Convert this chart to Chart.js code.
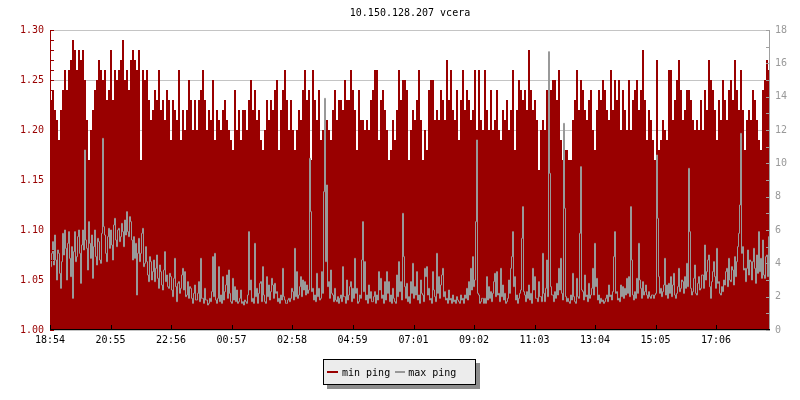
<!DOCTYPE html>
<html>
<head>
<meta charset="utf-8">
<script src="https://cdn.jsdelivr.net/npm/chart.js@4.4.1/dist/chart.umd.min.js"></script>
<style>
html,body{margin:0;padding:0;background:#fff;}
#wrap{position:relative;width:800px;height:400px;}
#legend{position:absolute;left:323px;top:359px;width:151px;height:24px;background:#ececec;border:1px solid #000;box-shadow:4px 4px 0 #8c8c8c;display:flex;align-items:center;font:10px 'DejaVu Sans Mono',monospace;color:#000;box-sizing:content-box;white-space:pre;}
.sw{display:inline-block;height:2px;}
</style>
</head>
<body>
<div id="wrap"><canvas id="c" width="800" height="400"></canvas><div id="legend"></div></div>
<script>
const TITLE = '10.150.128.207 vcera';
const SERIES_LABELS = ['min ping', 'max ping'];
const MIN_SAMPLE_MINUTES = 4;
const MAX_SAMPLE_MINUTES = 2;
const TOTAL_MINUTES = 1440;
const TICK_LABELS = ['18:54','20:55','22:56','00:57','02:58','04:59','07:01','09:02','11:03','13:04','15:05','17:06'];
const LEFT_TICKS = { min: 1.00, max: 1.30, step: 0.05 };
const RIGHT_TICKS = { min: 0, max: 18, step: 2 };

const MIN_PING = [
1.23,1.24,1.22,1.21,1.19,1.22,1.24,1.26,1.24,1.26,
1.27,1.29,1.28,1.26,1.28,1.27,1.28,1.25,1.21,1.17,
1.20,1.22,1.24,1.25,1.27,1.26,1.25,1.26,1.23,1.24,
1.28,1.23,1.26,1.25,1.26,1.27,1.29,1.25,1.26,1.24,
1.27,1.28,1.27,1.26,1.28,1.17,1.26,1.25,1.26,1.23,
1.21,1.22,1.24,1.23,1.26,1.22,1.23,1.21,1.24,1.23,
1.19,1.23,1.22,1.21,1.26,1.19,1.22,1.20,1.22,1.25,
1.23,1.20,
1.23,1.20,1.23,1.24,1.26,1.23,1.20,1.22,1.21,1.25,
1.19,1.22,1.21,1.20,1.22,1.23,1.21,1.20,1.19,1.18,
1.24,1.20,1.22,1.19,1.22,1.22,1.20,1.23,1.25,1.22,
1.24,1.21,1.22,1.19,1.18,1.20,1.23,1.21,1.23,1.22,
1.24,1.25,1.18,1.22,1.24,1.26,1.23,1.20,1.23,1.20,
1.18,1.20,1.22,1.21,1.24,1.26,1.23,1.24,1.17,1.26,
1.23,1.21,1.24,1.19,1.20,1.23,1.21,1.20,1.19,1.22,
1.24,1.21,1.23,
1.23,1.22,1.25,1.23,1.23,1.26,1.24,1.22,1.18,1.24,
1.21,1.21,1.20,1.21,1.20,1.23,1.24,1.26,1.26,1.19,
1.23,1.24,1.22,1.20,1.17,1.18,1.21,1.19,1.22,1.26,
1.23,1.25,1.25,1.24,1.17,1.20,1.22,1.21,1.23,1.26,
1.21,1.17,1.20,1.18,1.24,1.25,1.25,1.21,1.22,1.21,
1.24,1.23,1.21,1.27,1.23,1.26,1.22,1.21,1.24,1.19,
1.23,1.26,1.22,1.24,1.23,1.21,1.22,1.26,1.20,1.26,
1.21,1.20,
1.26,1.22,1.20,1.24,1.20,1.21,1.24,1.20,1.19,1.22,
1.21,1.23,1.20,1.22,1.26,1.18,1.22,1.25,1.24,1.23,
1.24,1.22,1.28,1.24,1.22,1.23,1.21,1.16,1.20,1.21,
1.20,1.24,1.26,1.24,1.25,1.25,1.23,1.26,1.19,1.17,
1.18,1.18,1.17,1.17,1.21,1.23,1.26,1.22,1.25,1.24,
1.22,1.21,1.23,1.24,1.20,1.18,1.22,1.24,1.23,1.25,
1.24,1.22,1.21,1.26,1.22,1.25,1.23,1.25,1.20,1.24,
1.22,1.20,
1.25,1.20,1.23,1.24,1.25,1.22,1.24,1.28,1.23,1.19,
1.22,1.21,1.19,1.17,1.27,1.18,1.19,1.21,1.20,1.19,
1.26,1.26,1.21,1.23,1.25,1.27,1.24,1.21,1.22,1.24,
1.24,1.23,1.21,1.20,1.21,1.20,1.23,1.20,1.24,1.22,
1.27,1.25,1.24,1.22,1.19,1.23,1.21,1.25,1.23,1.21,
1.24,1.25,1.23,1.27,1.24,1.22,1.26,1.22,1.18,1.21,
1.22,1.21,1.24,1.23,1.21,1.19,1.18,1.24,1.25,1.27,
1.26
];

const MAX_PING = [
3.8,4.6,5.3,3.9,5.7,4.2,3.0,4.8,4.6,3.4,2.5,4.1,5.8,4.5,6.0,4.9,3.0,5.2,5.9,4.3,
3.2,5.0,1.9,4.7,5.9,4.1,4.4,5.6,6.0,4.6,2.8,5.1,6.0,4.8,10.8,5.4,4.9,3.6,6.5,5.2,
4.3,5.7,3.1,5.0,6.0,4.4,3.9,5.5,5.3,4.2,4.0,5.8,11.5,6.2,5.7,4.6,4.1,5.6,6.1,4.9,
6.0,5.1,4.2,6.3,6.7,5.4,5.0,6.0,6.1,5.3,5.6,6.4,5.9,5.0,6.6,5.7,7.1,5.9,5.6,6.8,
6.5,5.4,4.2,5.6,4.3,5.2,2.1,4.6,5.5,4.1,4.6,5.8,6.1,3.8,4.0,5.0,4.1,3.3,2.9,4.4,
4.1,3.0,3.5,4.2,2.9,3.7,4.5,3.1,2.5,3.9,3.5,2.7,2.4,3.6,4.7,2.9,3.3,2.6,2.5,3.4,
3.2,2.4,2.0,3.1,4.3,2.6,1.7,2.8,2.9,2.2,2.5,3.3,3.7,2.4,3.5,2.0,2.1,2.9,1.9,2.6,
2.5,1.9,1.6,2.2,
2.7,1.8,1.8,2.2,2.9,1.7,4.3,1.9,1.9,1.6,2.5,1.8,1.8,1.5,1.6,1.9,1.7,2.3,4.4,2.0,
4.6,1.8,1.6,1.9,3.8,1.7,2.1,1.6,3.2,1.8,2.3,2.7,3.3,1.9,3.6,2.2,1.7,1.6,3.1,1.8,
2.6,1.7,2.4,1.6,1.7,1.9,2.4,1.6,1.7,1.5,1.8,1.7,1.6,2.1,5.9,2.4,3.0,1.7,1.9,1.6,
5.2,2.0,2.5,1.6,2.2,2.8,2.9,1.7,3.8,2.1,1.7,1.6,3.2,2.0,2.7,1.8,2.3,3.1,2.7,1.9,
2.8,2.2,2.3,1.7,1.9,1.6,2.1,1.8,3.7,2.0,1.8,1.6,1.6,1.8,1.9,1.7,1.9,2.5,2.3,1.8,
4.9,2.0,3.5,1.9,2.1,2.6,3.2,2.0,3.0,2.4,2.9,2.1,2.7,2.2,2.4,10.3,7.1,2.3,2.5,1.8,
2.1,1.7,3.4,2.0,2.5,1.8,1.9,3.5,2.2,8.3,13.9,4.1,8.7,2.6,2.9,1.9,3.6,2.2,2.1,1.7,
2.5,1.8,1.7,2.0,1.6,1.9,
2.1,1.7,3.8,2.0,2.0,1.6,3.0,1.8,2.1,2.6,2.9,1.7,2.5,1.9,4.3,2.2,2.5,1.6,1.7,2.1,
1.9,4.2,6.5,2.3,4.1,1.8,2.1,1.6,2.7,1.9,2.3,1.7,1.7,2.0,2.3,1.6,2.1,1.8,3.5,2.4,
3.1,1.9,2.1,1.6,2.9,1.8,3.5,2.2,2.9,1.7,2.1,1.6,2.5,1.9,1.7,1.6,3.3,2.0,4.1,2.3,
2.9,1.8,7.0,4.4,2.6,1.9,2.8,1.7,2.0,1.6,2.9,2.2,4.0,1.9,2.6,2.1,3.5,1.8,2.1,1.6,
3.0,2.2,2.1,1.7,3.7,3.2,3.8,2.1,2.5,1.8,1.9,1.6,3.5,2.4,2.0,1.7,4.6,2.2,3.2,1.9,
2.7,3.3,3.7,2.0,2.3,1.8,1.9,1.6,2.4,1.8,1.9,1.6,2.1,1.7,1.8,1.6,2.0,1.8,1.7,1.6,
2.1,1.8,1.9,1.6,2.1,1.9,2.5,1.8,2.9,2.1,3.7,2.4,4.4,2.6,3.0,6.5,11.4,2.2,2.1,1.6,
1.7,1.9,1.9,1.6,
1.9,1.6,3.2,1.8,2.6,1.9,2.3,1.7,2.2,2.9,3.4,2.0,3.5,2.1,2.2,1.7,3.7,2.0,2.7,1.8,
2.2,1.6,1.7,1.9,3.0,2.2,3.7,4.4,5.9,2.6,3.2,1.8,2.1,1.6,1.9,2.2,2.4,5.5,7.4,2.3,
2.1,1.7,2.3,1.9,2.7,1.8,2.2,1.6,3.7,2.4,3.2,1.9,1.9,1.7,2.9,2.0,2.0,1.7,4.6,2.2,
1.7,2.5,4.2,2.0,16.7,9.4,2.6,2.1,2.1,1.7,2.3,1.9,2.8,2.1,3.7,2.4,4.3,2.2,1.8,12.4,
7.3,2.0,1.7,1.9,1.7,1.6,2.1,1.8,3.4,2.0,1.7,1.6,3.1,2.0,1.9,5.8,9.8,2.4,2.3,1.8,
3.3,2.0,2.1,1.7,2.8,1.9,2.1,2.5,3.7,2.1,5.2,2.6,3.1,1.8,2.1,1.6,1.9,1.7,1.8,1.6,
1.7,1.9,2.1,1.7,2.7,2.0,2.1,1.8,2.3,4.4,5.9,2.2,2.3,1.8,1.9,1.7,2.7,2.0,2.6,1.9,
2.5,2.1,3.1,2.2,
3.2,2.0,7.4,4.2,2.1,1.8,2.3,1.9,3.1,2.2,5.2,3.0,2.5,1.9,2.9,2.1,2.3,2.7,2.1,1.9,
2.3,2.0,1.9,2.1,2.1,1.9,2.1,2.2,10.5,6.7,3.2,2.2,2.5,2.0,2.3,2.7,4.3,2.1,2.7,1.9,
2.8,2.2,3.2,2.0,2.7,3.4,2.1,1.9,2.2,2.6,3.7,2.3,2.5,3.0,2.9,2.2,3.2,2.5,4.0,2.6,
9.7,5.9,2.5,2.1,2.3,3.1,3.9,2.2,2.1,2.8,3.2,2.4,2.5,3.3,3.3,2.5,5.1,3.0,3.5,4.2,
4.5,2.6,1.9,2.9,3.5,4.1,3.2,2.5,4.9,2.8,2.9,2.2,2.1,2.6,2.3,3.0,2.7,3.5,3.7,2.6,
4.3,3.0,2.9,3.8,3.6,2.7,4.4,3.2,4.1,5.0,5.8,7.5,11.8,4.6,5.0,3.6,3.7,2.9,3.7,4.8,
3.3,4.2,4.1,3.0,4.1,4.9,3.7,2.8,4.5,3.4,5.9,3.5,4.3,3.1,5.4,3.3,3.1,4.4,4.5,3.2,
5.6,3.9
];

const RED = '#990000';
const LINE_GRAY = '#999999';
const LABEL_GRAY = '#999999';
const FONT = "'DejaVu Sans Mono', monospace";

Chart.defaults.font.family = FONT;
Chart.defaults.font.size = 10;

function minutesFromStart(label) {
  const [h, m] = label.split(':').map(Number);
  const [h0, m0] = TICK_LABELS[0].split(':').map(Number);
  return ((h * 60 + m) - (h0 * 60 + m0) + 1440) % 1440;
}
const toPoints = (arr, step) => arr.map((v, i) => ({ x: i * step + step / 2, y: v }));

const crispLine = {
  id: 'crispLine',
  beforeDatasetDraw(chart, args) {
    if (args.index === 1) { chart.ctx.save(); chart.ctx.translate(0.5, 0); }
  },
  afterDatasetDraw(chart, args) {
    if (args.index === 1) { chart.ctx.restore(); }
  }
};

const decor = {
  id: 'decor',
  afterDatasetsDraw(chart) {
    const { ctx, chartArea: a, scales: { x, y, y2 } } = chart;
    ctx.save();
    ctx.lineWidth = 1;
    ctx.strokeStyle = RED;
    ctx.beginPath();
    for (let k = Math.round(y.min * 100); k <= Math.round(y.max * 100); k++) {
      const py = Math.round(y.getPixelForValue(k / 100)) + 0.5;
      ctx.moveTo(a.left, py); ctx.lineTo(a.left + 4, py);
    }
    ctx.moveTo(a.left + 0.5, a.top); ctx.lineTo(a.left + 0.5, a.bottom);
    ctx.stroke();
    ctx.strokeStyle = '#a0a0a0';
    ctx.beginPath();
    for (let v = y2.min; v <= y2.max; v++) {
      const py = Math.round(y2.getPixelForValue(v)) + 0.5;
      ctx.moveTo(a.right, py); ctx.lineTo(a.right - 4, py);
    }
    ctx.moveTo(a.right - 0.5, a.top); ctx.lineTo(a.right - 0.5, a.bottom + 1);
    ctx.stroke();
    ctx.strokeStyle = '#000';
    ctx.beginPath();
    x.ticks.forEach(t => {
      const px = Math.round(x.getPixelForValue(t.value)) + 0.5;
      ctx.moveTo(px, a.bottom); ctx.lineTo(px, a.bottom - 5);
    });
    ctx.moveTo(a.left, a.bottom - 0.5); ctx.lineTo(a.right, a.bottom - 0.5);
    ctx.stroke();
    ctx.restore();
  }
};

const chart = new Chart(document.getElementById('c'), {
  type: 'line',
  data: {
    datasets: [
      { label: SERIES_LABELS[0], data: toPoints(MIN_PING, MIN_SAMPLE_MINUTES), yAxisID: 'y', backgroundColor: RED, borderColor: RED,
        borderWidth: 0, pointRadius: 0, fill: 'start', stepped: 'middle', order: 2 },
      { label: SERIES_LABELS[1], data: toPoints(MAX_PING, MAX_SAMPLE_MINUTES), yAxisID: 'y2', borderColor: LINE_GRAY, backgroundColor: LINE_GRAY,
        borderWidth: 1, pointRadius: 0, fill: false, stepped: 'middle', order: 1 }
    ]
  },
  options: {
    responsive: false,
    animation: false,
    layout: { padding: 0 },
    plugins: {
      legend: { display: false },
      tooltip: { enabled: false },
      title: { display: true, fullSize: false, text: TITLE, color: '#000', font: { size: 10, weight: 'normal', family: FONT }, padding: { top: 7, bottom: 11 } }
    },
    scales: {
      x: {
        type: 'linear', min: 0, max: TOTAL_MINUTES,
        grid: { display: false, drawTicks: false }, border: { display: false },
        afterBuildTicks: s => { s.ticks = TICK_LABELS.map(l => ({ value: minutesFromStart(l) })); },
        afterFit: s => { s.height = 70; },
        ticks: { color: '#000', padding: 4, maxRotation: 0, autoSkip: false, callback: (v, i) => TICK_LABELS[i] }
      },
      y: {
        position: 'left', min: LEFT_TICKS.min, max: LEFT_TICKS.max,
        grid: { color: '#c4c4c4', drawTicks: false }, border: { display: false },
        afterFit: s => { s.width = 50; },
        ticks: { stepSize: LEFT_TICKS.step, color: RED, padding: 6, callback: v => Number(v).toFixed(2) }
      },
      y2: {
        position: 'right', min: RIGHT_TICKS.min, max: RIGHT_TICKS.max,
        grid: { display: false, drawTicks: false }, border: { display: false },
        afterFit: s => { s.width = 30; },
        ticks: { stepSize: RIGHT_TICKS.step, color: LABEL_GRAY, padding: 5 }
      }
    }
  },
  plugins: [crispLine, decor]
});

const legend = document.getElementById('legend');
const margins = [[3, 4], [5, 3]];
const widths = [11, 10];
chart.data.datasets.forEach((ds, i) => {
  const sw = document.createElement('span');
  sw.className = 'sw';
  sw.style.background = ds.borderColor;
  sw.style.width = widths[i] + 'px';
  sw.style.marginLeft = margins[i][0] + 'px';
  sw.style.marginRight = margins[i][1] + 'px';
  const t = document.createElement('span');
  t.textContent = ds.label;
  legend.appendChild(sw);
  legend.appendChild(t);
});
</script>
</body>
</html>
